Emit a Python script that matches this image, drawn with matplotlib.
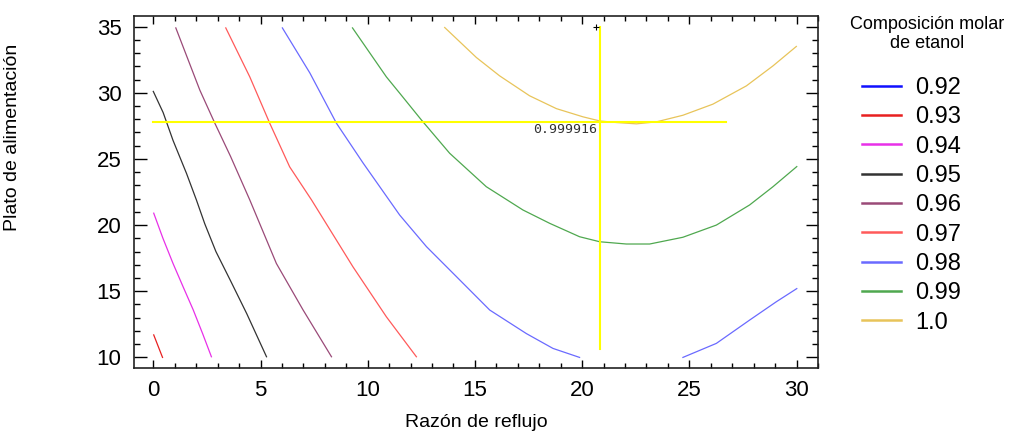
import matplotlib
matplotlib.use('Agg')
import matplotlib.pyplot as plt
from matplotlib.lines import Line2D
from matplotlib.ticker import MultipleLocator

plt.rcParams['font.family'] = ['Liberation Sans', 'DejaVu Sans']

# Contour levels (composicion molar de etanol) and legend colours
levels = ['0.92', '0.93', '0.94', '0.95', '0.96', '0.97', '0.98', '0.99', '1.0']
colors = ['#1010ff', '#e82020', '#e830e8', '#333333', '#9a4a78',
          '#ff5a5a', '#6a6aff', '#4fa84f', '#e8c45a']

# Contour paths: (razon de reflujo, plato de alimentacion)
c093_x = [0.02, 0.43]
c093_y = [11.7, 10.0]

c094_x = [0.02, 0.45, 0.92, 1.4, 1.86, 2.3, 2.71]
c094_y = [20.9, 19.0, 17.1, 15.3, 13.6, 11.8, 10.05]

c095_x = [0.0, 0.46, 0.92, 1.55, 2.01, 2.4, 2.92, 3.6, 4.36, 5.28]
c095_y = [30.1, 28.5, 26.4, 23.9, 21.9, 20.1, 18.0, 15.8, 13.3, 10.05]

c096_x = [1.05, 2.17, 2.87, 3.6, 4.5, 5.74, 6.98, 8.31]
c096_y = [34.9, 30.2, 27.7, 25.2, 21.9, 17.1, 13.6, 10.05]

c097_x = [3.38, 4.5, 5.43, 6.36, 7.38, 9.31, 10.87, 12.27]
c097_y = [34.9, 31.2, 27.7, 24.4, 21.9, 16.85, 13.07, 10.05]

c098a_x = [6.02, 7.3, 8.54, 9.78, 11.49, 12.74, 14.14, 15.69, 17.4, 18.64, 19.88]
c098a_y = [34.9, 31.5, 27.7, 24.7, 20.76, 18.37, 16.1, 13.58, 11.8, 10.68, 10.0]
c098b_x = [24.7, 26.26, 27.81, 29.05, 30.01]
c098b_y = [10.0, 11.06, 12.82, 14.2, 15.2]

c099_x = [9.29, 10.87, 11.49, 12.5, 13.82, 15.53, 17.24, 18.49, 19.88, 20.82,
          22.06, 23.15, 24.7, 26.26, 27.81, 28.9, 30.01]
c099_y = [34.9, 31.2, 29.97, 27.95, 25.43, 22.9, 21.14, 20.13, 19.12, 18.74,
          18.57, 18.57, 19.08, 20.0, 21.52, 22.9, 24.42]

c100_x = [13.59, 15.07, 16.15, 17.55, 18.8, 20.04, 20.82, 21.6, 22.53, 23.46,
          24.7, 26.1, 27.66, 28.9, 29.99]
c100_y = [34.93, 32.66, 31.28, 29.77, 28.8, 28.18, 27.87, 27.75, 27.65, 27.8,
          28.3, 29.14, 30.52, 32.03, 33.5]

# optimum found
opt_x = 20.85
opt_y = 27.78
opt_val = '0.999916'

fig = plt.figure(figsize=(10.25, 4.32), dpi=100)
ax = fig.add_axes([134 / 1025, 1 - 368 / 432, 684 / 1025, 352 / 432])

lw = 0.9
ax.plot(c093_x, c093_y, color=colors[1], lw=lw)
ax.plot(c094_x, c094_y, color=colors[2], lw=lw)
ax.plot(c095_x, c095_y, color=colors[3], lw=lw)
ax.plot(c096_x, c096_y, color=colors[4], lw=lw)
ax.plot(c097_x, c097_y, color=colors[5], lw=lw)
ax.plot(c098a_x, c098a_y, color=colors[6], lw=lw)
ax.plot(c098b_x, c098b_y, color=colors[6], lw=lw)
ax.plot(c099_x, c099_y, color=colors[7], lw=lw)
ax.plot(c100_x, c100_y, color=colors[8], lw=lw)

# crosshair at the optimum
ax.plot([0, 26.7], [opt_y, opt_y], color='#ffff00', lw=1.5)
ax.plot([opt_x, opt_x], [10.6, 35.0], color='#ffff00', lw=1.5)
ax.plot([20.63], [35.0], marker='+', color='black', ms=5, mew=0.8)
ax.text(opt_x - 0.15, opt_y - 0.1, opt_val, ha='right', va='top',
        fontsize=9.5, family='DejaVu Sans Mono', color='#333333')

ax.set_xlim(-0.9, 31.0)
ax.set_ylim(9.2, 35.8)
ax.xaxis.set_major_locator(MultipleLocator(5))
ax.xaxis.set_minor_locator(MultipleLocator(1))
ax.yaxis.set_major_locator(MultipleLocator(5))
ax.yaxis.set_minor_locator(MultipleLocator(1))
ax.tick_params(axis='x', which='major', direction='in', top=True, length=6, width=1, labelsize=16, pad=9)
ax.tick_params(axis='x', which='minor', direction='in', top=True, length=3.5, width=1)
ax.tick_params(axis='y', which='major', direction='in', right=True, length=9, width=1, labelsize=16, pad=9)
ax.tick_params(axis='y', which='minor', direction='in', right=True, length=4.5, width=1)
for s in ax.spines.values():
    s.set_linewidth(1.2)
    s.set_color('#222222')

ax.set_xlabel('Razón de reflujo', fontsize=14)
ax.xaxis.set_label_coords(0.5, -0.13)
ax.set_ylabel('Plato de alimentación', fontsize=14)
ax.yaxis.set_label_coords(-0.165, 0.655)

# legend
handles = [Line2D([], [], color=c, lw=1.8) for c in colors]
fig.legend(handles, levels, loc='upper left', bbox_to_anchor=(862 / 1025, 1 - 77 / 432),
           frameon=False, fontsize=17, borderpad=0, borderaxespad=0,
           labelspacing=0.31, handlelength=1.65, handletextpad=0.6)
fig.text(927 / 1025, 1 - 16 / 432, 'Composición molar\nde etanol', ha='center', va='top',
         fontsize=13, linespacing=1.15)

fig.savefig('out.png', dpi=100)
